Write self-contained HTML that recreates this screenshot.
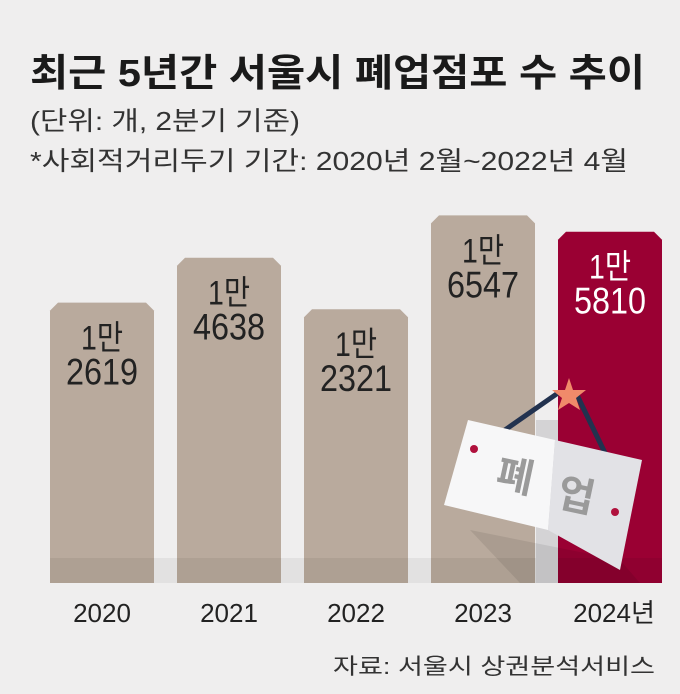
<!DOCTYPE html>
<html><head><meta charset="utf-8"><style>
html,body{margin:0;padding:0;background:#efeeee;}
svg{display:block}
text{font-family:"Liberation Sans","Noto Sans CJK KR",sans-serif;}
</style></head><body>
<svg id="chart" width="680" height="694" viewBox="0 0 680 694" xmlns="http://www.w3.org/2000/svg">
<rect x="0" y="0" width="680" height="694" fill="#efeeee"/>
<text x="30" y="86" font-size="38" font-weight="bold" fill="#1a1a1a" textLength="615" lengthAdjust="spacingAndGlyphs">최근 5년간 서울시 폐업점포 수 추이</text>
<text x="30" y="130" font-size="26" fill="#333" textLength="270" lengthAdjust="spacingAndGlyphs">(단위: 개, 2분기 기준)</text>
<text x="30" y="170" font-size="26" fill="#333" textLength="598" lengthAdjust="spacingAndGlyphs">*사회적거리두기 기간: 2020년 2월~2022년 4월</text>
<rect x="50" y="558" width="612" height="25" fill="#e2e1e1"/>
<g id="bars"></g>
<g id="sign">
  <polygon points="536,420 558,420 558,583 536,583" fill="#d4d3d5"/>
  <polygon points="470,530 620,560 640,583 520,583" fill="#000" opacity="0.08"/>
  <line x1="502" y1="432" x2="558" y2="393" stroke="#22324f" stroke-width="5"/>
  <line x1="576" y1="393" x2="605" y2="453" stroke="#22324f" stroke-width="5"/>
  <polygon points="569,378 573,390 586,390 576,398 580,410 569,403 558,410 562,398 552,390 565,390" fill="#f08a6a"/>
  <polygon points="468,420 555,440 548,530 444,505" fill="#f7f7f8"/>
  <polygon points="555,440 642,460 620,570 548,530" fill="#e2e2e6"/>
  <circle cx="474" cy="449" r="4" fill="#b0113d"/>
  <circle cx="615" cy="512" r="4" fill="#b0113d"/>
  <text x="497" y="490" font-size="40" font-weight="bold" fill="#9a9a9a" transform="rotate(12 515 475)">폐</text>
  <text x="558" y="510" font-size="40" font-weight="bold" fill="#9a9a9a" transform="rotate(12 578 495)">업</text>
</g>
<g id="labels"></g>
<text x="655" y="674" font-size="22" fill="#333" text-anchor="end" textLength="322" lengthAdjust="spacingAndGlyphs">자료: 서울시 상권분석서비스</text>
</svg>
<script>
const years = ["2020","2021","2022","2023","2024년"];
const values = [12619, 14638, 12321, 16547, 15810];
const valueLabels = ["2619","4638","2321","6547","5810"];
const NS = "http://www.w3.org/2000/svg";
const barsG = document.getElementById('bars');
const labelsG = document.getElementById('labels');
const baseY = 583, pxPerUnit = 0.02222;
function yScale(v){ return baseY - v * pxPerUnit; }
function xScale(i){ return 50 + i * 127; }
const barW = 104, ch = 8;
values.forEach((v, i) => {
  const x = xScale(i), top = yScale(v), hl = i === 4;
  const p = document.createElementNS(NS, 'polygon');
  p.setAttribute('points', `${x},${top+ch} ${x+ch},${top} ${x+barW-ch},${top} ${x+barW},${top+ch} ${x+barW},${baseY} ${x},${baseY}`);
  p.setAttribute('fill', hl ? '#9a0033' : '#b9aa9d');
  
  
  barsG.appendChild(p);
  const sh = document.createElementNS(NS, 'rect');
  sh.setAttribute('x', x); sh.setAttribute('y', baseY - 25);
  sh.setAttribute('width', barW); sh.setAttribute('height', 25);
  sh.setAttribute('fill', '#000'); sh.setAttribute('opacity', '0.06');
  
  
  barsG.appendChild(sh);
  const cx = x + barW / 2;
  const t1 = document.createElementNS(NS, 'text');
  t1.setAttribute('x', cx); t1.setAttribute('y', top + 47);
  t1.setAttribute('text-anchor', 'middle'); t1.setAttribute('font-size', '34');
  t1.setAttribute('textLength', '42'); t1.setAttribute('lengthAdjust', 'spacingAndGlyphs');
  t1.setAttribute('fill', hl ? '#fff' : '#222');
  
  
  t1.textContent = '1만';
  labelsG.appendChild(t1);
  const t2 = document.createElementNS(NS, 'text');
  t2.setAttribute('x', cx); t2.setAttribute('y', top + 82);
  t2.setAttribute('text-anchor', 'middle'); t2.setAttribute('font-size', '37');
  t2.setAttribute('fill', hl ? '#fff' : '#222');
  t2.setAttribute('textLength', '72'); t2.setAttribute('lengthAdjust', 'spacingAndGlyphs');
  
  
  t2.textContent = valueLabels[i];
  labelsG.appendChild(t2);
  const yl = document.createElementNS(NS, 'text');
  yl.setAttribute('x', cx + (i === 4 ? 4 : 0)); yl.setAttribute('y', 622);
  yl.setAttribute('text-anchor', 'middle'); yl.setAttribute('font-size', '26');
  yl.setAttribute('fill', '#222');
  
  
  yl.textContent = years[i];
  labelsG.appendChild(yl);
});
</script>
</body></html>
